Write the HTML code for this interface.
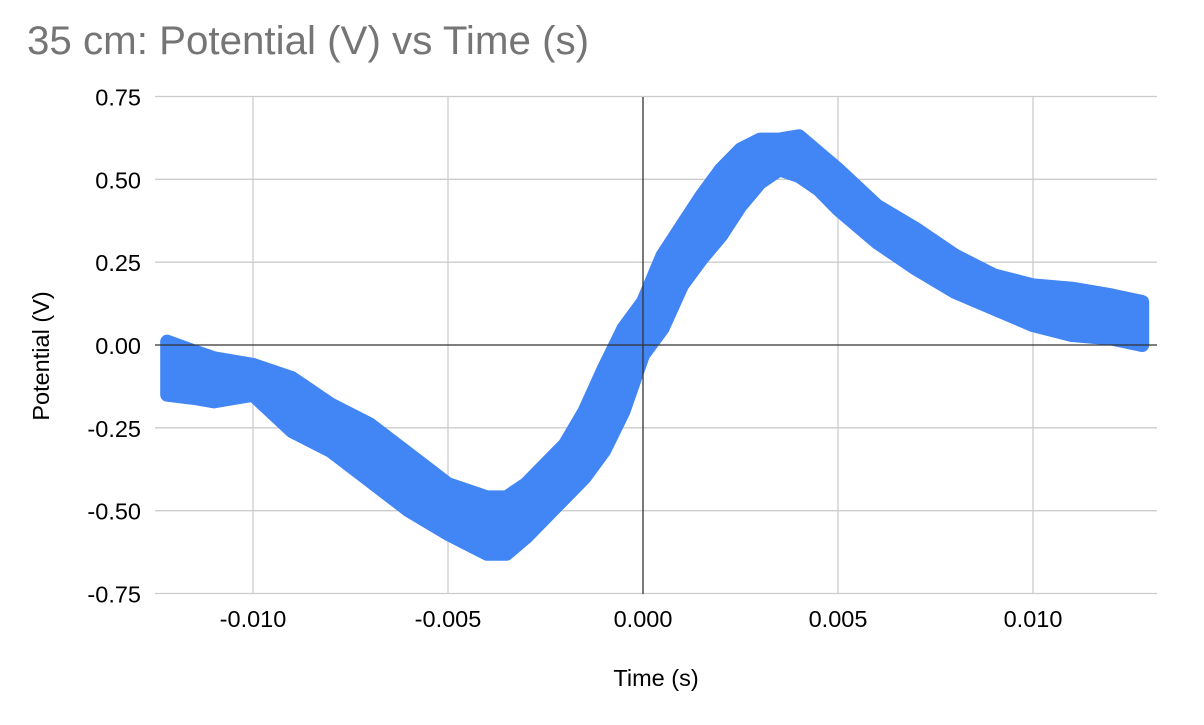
<!DOCTYPE html>
<html><head><meta charset="utf-8"><style>
body{margin:0;background:#fff;width:1204px;height:720px;overflow:hidden;font-family:"Liberation Sans",Arial,sans-serif}
</style></head><body>
<svg id="chart" width="1204" height="720" xmlns="http://www.w3.org/2000/svg">
<text x="27" y="54" font-size="40.3" fill="#757575" font-family="Liberation Sans, Arial, sans-serif">35 cm: Potential (V) vs Time (s)</text>
<g id="grid"></g>
<g id="series"></g>
<g id="axes"></g>
<text x="656" y="686" font-size="23.5" text-anchor="middle" fill="#000" font-family="Liberation Sans, Arial, sans-serif">Time (s)</text>
<text x="0" y="0" font-size="23.5" text-anchor="middle" fill="#000" transform="translate(49,356) rotate(-90)" font-family="Liberation Sans, Arial, sans-serif">Potential (V)</text>
</svg>
<script>
const times=[-0.0122,-0.0115,-0.011,-0.010,-0.009,-0.008,-0.007,-0.006,-0.005,-0.004,-0.0035,-0.003,-0.0025,-0.002,-0.0015,-0.001,-0.0005,0,0.0005,0.001,0.0015,0.002,0.0025,0.003,0.0035,0.004,0.0045,0.005,0.006,0.007,0.008,0.009,0.010,0.011,0.012,0.0128];
const upper=[0.01,-0.02,-0.04,-0.06,-0.10,-0.18,-0.24,-0.33,-0.42,-0.46,-0.46,-0.42,-0.36,-0.30,-0.20,-0.07,0.05,0.13,0.27,0.36,0.45,0.53,0.59,0.62,0.62,0.63,0.58,0.53,0.42,0.35,0.27,0.21,0.18,0.17,0.15,0.13];
const lower=[-0.15,-0.16,-0.17,-0.15,-0.26,-0.32,-0.41,-0.50,-0.57,-0.63,-0.63,-0.58,-0.52,-0.46,-0.40,-0.32,-0.20,-0.03,0.05,0.18,0.26,0.33,0.42,0.49,0.53,0.51,0.47,0.41,0.31,0.23,0.16,0.11,0.06,0.03,0.02,0.00];
const xTicks=[-0.010,-0.005,0,0.005,0.010];
const xTickLabels=["-0.010","-0.005","0.000","0.005","0.010"];
const yTicks=[0.75,0.5,0.25,0,-0.25,-0.5,-0.75];
const yTickLabels=["0.75","0.50","0.25","0.00","-0.25","-0.50","-0.75"];
const X0=155,X1=1157,Y0=97,Y1=594;
const xs=t=>643+t*39000;
const ys=v=>345-v*331.33;
const NS="http://www.w3.org/2000/svg";
function mk(tag,attrs,parent){const e=document.createElementNS(NS,tag);for(const k in attrs)e.setAttribute(k,attrs[k]);parent.appendChild(e);return e;}
const grid=document.getElementById('grid'),axes=document.getElementById('axes'),series=document.getElementById('series');
xTicks.forEach((t,i)=>{
 if(t!==0){const l=mk('line',{x1:xs(t),x2:xs(t),y1:Y0,y2:Y1,stroke:'#cccccc','stroke-width':1.3},grid);
 
 }
 const tx=mk('text',{x:xs(t),y:627,'font-size':23.5,'text-anchor':'middle',fill:'#000'},axes);tx.textContent=xTickLabels[i];
 
 
});
yTicks.forEach((v,i)=>{
 if(v!==0){const l=mk('line',{x1:X0,x2:X1,y1:ys(v),y2:ys(v),stroke:'#cccccc','stroke-width':1.3},grid);
 
 }
 const tx=mk('text',{x:141,y:ys(v)+9,'font-size':23.5,'text-anchor':'end',fill:'#000'},axes);tx.textContent=yTickLabels[i];
 
 
});
let pts=[];
times.forEach((t,i)=>pts.push(xs(t)+','+ys(upper[i])));
for(let i=times.length-1;i>=0;i--)pts.push(xs(times[i])+','+ys(lower[i]));
const band=mk('polygon',{points:pts.join(' '),fill:'#4285f4',stroke:'#4285f4','stroke-width':14,'stroke-linejoin':'round'},series);


const xa=mk('line',{x1:X0,x2:X1,y1:ys(0),y2:ys(0),stroke:'#333','stroke-width':1.3},axes);


const ya=mk('line',{x1:xs(0),x2:xs(0),y1:Y0,y2:Y1,stroke:'#333','stroke-width':1.3},axes);


</script>
</body></html>
